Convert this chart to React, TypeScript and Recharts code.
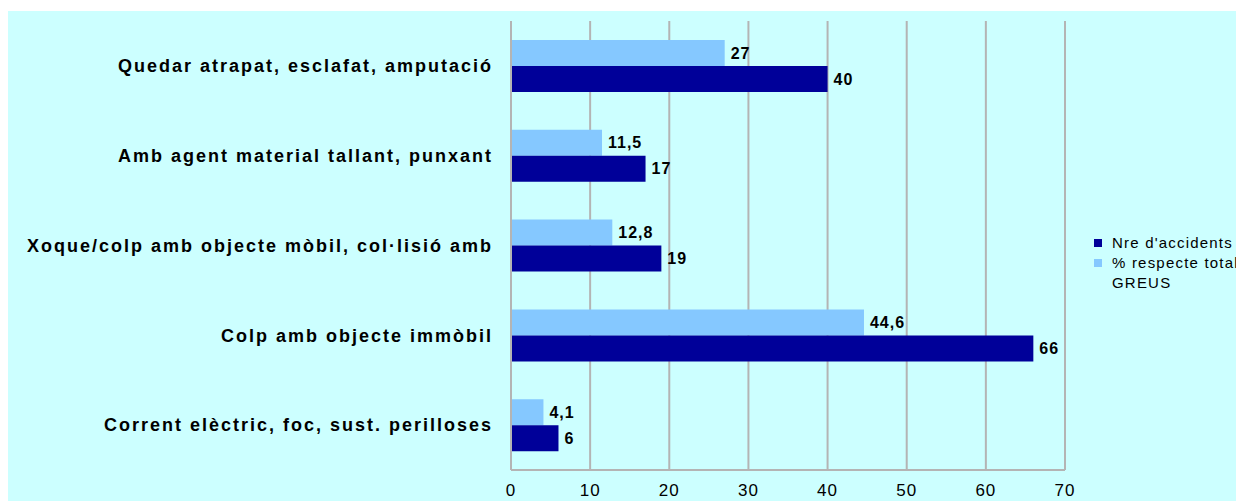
import { Bar, BarChart, CartesianGrid, LabelList, XAxis, YAxis } from "recharts";

const categories = [
  "Quedar atrapat, esclafat, amputació",
  "Amb agent material tallant, punxant",
  "Xoque/colp amb objecte mòbil, col·lisió amb",
  "Colp amb objecte immòbil",
  "Corrent elèctric, foc, sust. perilloses",
];
const accidents = [40, 17, 19, 66, 6];
const percents = [27, 11.5, 12.8, 44.6, 4.1];
const xTicks = [0, 10, 20, 30, 40, 50, 60, 70];
const seriesNames = ["Nre d'accidents", "% respecte total GREUS"];

const DARK = "#000099";
const LIGHT = "#85C8FF";
const BG = "#CCFFFF";
const GRID = "#B4B4B4";
const FONT = "'Liberation Sans', Arial, sans-serif";

const data = categories.map((name, i) => ({
  name,
  accidents: accidents[i],
  percent: percents[i],
}));

const fmt = (v: unknown) => String(v).replace(".", ",");

const labelStyle = { fill: "#000", fontSize: 16, fontWeight: "bold", fontFamily: FONT, letterSpacing: 1 };

export default function App() {
  return (
    <div style={{ position: "relative", marginTop: 3, width: 1236, height: 490, background: BG, fontFamily: FONT }}>
      <BarChart
        width={1236}
        height={490}
        data={data}
        layout="vertical"
        margin={{ top: 10, right: 179, bottom: 0, left: 0 }}
        barGap={0}
        barSize={26}
      >
        <CartesianGrid horizontal={false} vertical stroke={GRID} strokeWidth={2} />
        <XAxis
          type="number"
          domain={[0, 70]}
          ticks={xTicks}
          interval={0}
          height={31}
          axisLine={{ stroke: GRID, strokeWidth: 2 }}
          tickLine={false}
          tickSize={0}
          tickMargin={14}
          tick={{ fill: "#000", fontSize: 17, fontFamily: FONT, letterSpacing: 1 }}
        />
        <XAxis
          xAxisId="top"
          orientation="top"
          type="number"
          domain={[0, 70]}
          height={0}
          tick={false}
          tickLine={false}
          axisLine={{ stroke: GRID, strokeWidth: 2 }}
        />
        <YAxis
          type="category"
          dataKey="name"
          width={503}
          axisLine={{ stroke: GRID, strokeWidth: 2 }}
          tickLine={false}
          tickSize={0}
          tickMargin={18}
          interval={0}
          tick={{ fill: "#000", fontSize: 18, fontWeight: "bold", fontFamily: FONT, letterSpacing: 2 }}
        />
        <Bar dataKey="percent" name={seriesNames[1]} fill={LIGHT} isAnimationActive={false}>
          <LabelList dataKey="percent" position="right" offset={6} formatter={fmt} style={labelStyle} />
        </Bar>
        <Bar dataKey="accidents" name={seriesNames[0]} fill={DARK} isAnimationActive={false}>
          <LabelList dataKey="accidents" position="right" offset={6} formatter={fmt} style={labelStyle} />
        </Bar>
      </BarChart>
      <div style={{ position: "absolute", left: 1086, top: 222, fontSize: 15, lineHeight: "20px", letterSpacing: 1.2 }}>
        {[
          { label: seriesNames[0], color: DARK },
          { label: seriesNames[1], color: LIGHT },
        ].map((item) => (
          <div key={item.label} style={{ display: "flex", alignItems: "flex-start" }}>
            <span
              style={{ width: 8, height: 8, background: item.color, marginTop: 6, marginRight: 10, flex: "none" }}
            />
            <span style={{ width: 136 }}>{item.label}</span>
          </div>
        ))}
      </div>
    </div>
  );
}
